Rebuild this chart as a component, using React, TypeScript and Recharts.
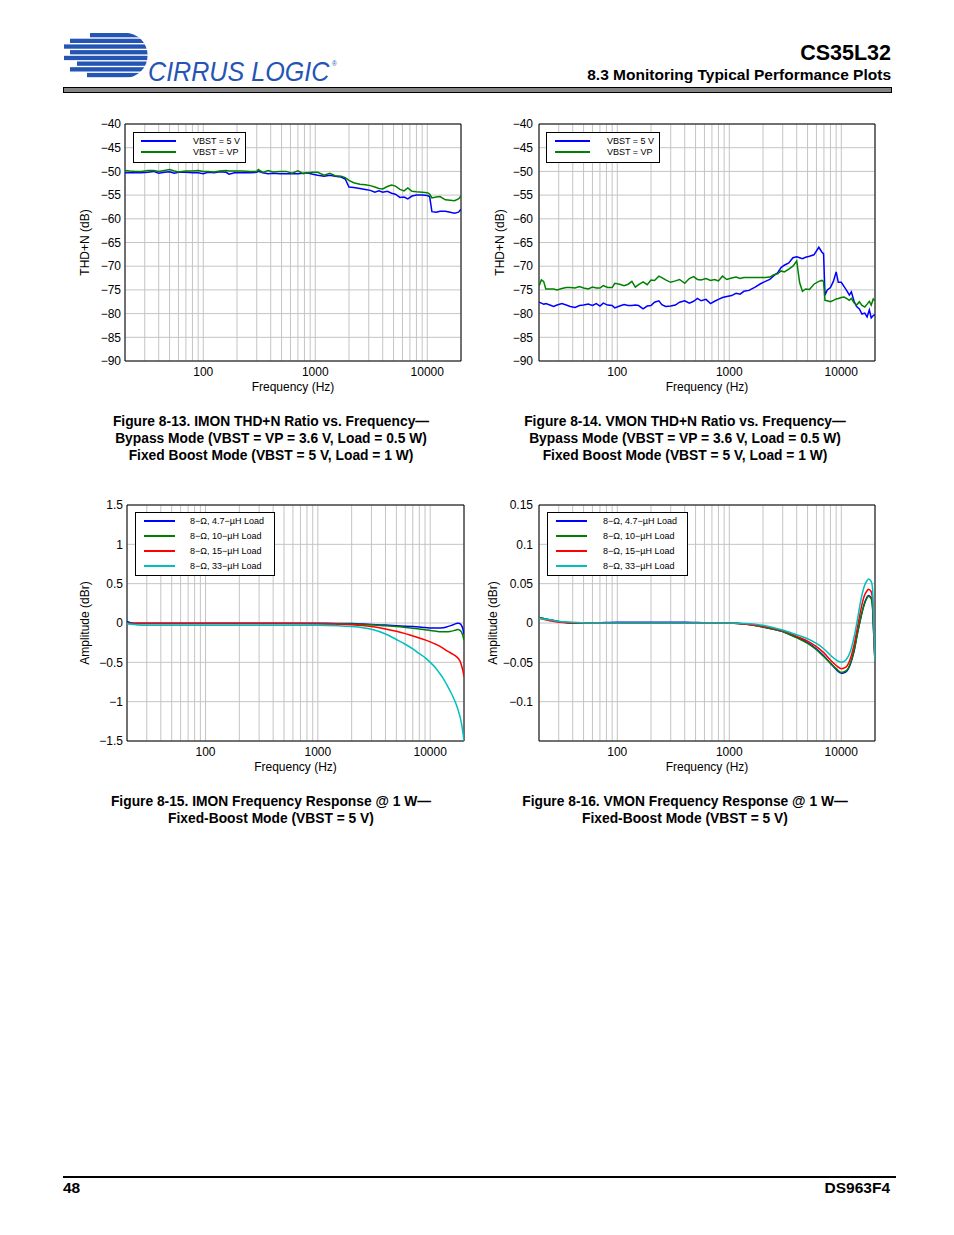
import React from "react";
import {
  LineChart,
  Line,
  XAxis,
  YAxis,
  CartesianGrid,
  Legend,
  ReferenceArea,
} from "recharts";

const FONT = '"Liberation Sans", Arial, Helvetica, sans-serif';

// log grid, only decades get a label
const X_TICKS = [
  20, 30, 40, 50, 60, 70, 80, 90, 100, 200, 300, 400, 500, 600, 700, 800, 900,
  1000, 2000, 3000, 4000, 5000, 6000, 7000, 8000, 9000, 10000, 20000,
];
const X_LABELED = [100, 1000, 10000];

// Figure 8-13 IMON THD+N
const imonThdFreq = [
  20, 22, 25, 28, 32, 36, 40, 45, 50, 55, 60, 70, 80, 90, 100, 110, 125, 140,
  160, 170, 190, 220, 260, 300, 310, 340, 380, 420, 480, 550, 620, 700, 780,
  850, 950, 1050, 1200, 1350, 1500, 1700, 1850, 2000, 2200, 2500, 2800, 3100,
  3400, 3700, 4000, 4400, 4800, 5200, 5700, 6200, 6700, 7300, 8000, 9000,
  10000, 10500, 11000, 12000, 13000, 14500, 16000, 17500, 19000, 20000,
];
const imonThdVbst5 = [
  -50.3, -50.3, -50.3, -50.3, -50.2, -50.0, -50.4, -50.2, -50.1, -50.4,
  -50.2, -50.2, -50.3, -50.3, -50.5, -50.2, -50.3, -50.1, -50.2, -50.6,
  -50.3, -50.3, -50.3, -50.2, -50.0, -50.3, -50.5, -50.4, -50.5, -50.5,
  -50.5, -50.5, -50.4, -50.3, -50.6, -50.8, -51.0, -50.8, -51.0, -51.2,
  -51.6, -53.3, -53.4, -53.6, -53.8, -54.0, -54.4, -54.1, -54.4, -54.2,
  -54.6, -54.8, -55.5, -55.4, -55.8, -55.2, -55.0, -55.0, -55.1, -55.3,
  -58.5, -58.6, -58.4, -58.4, -58.6, -58.8, -58.6, -58.0,
];
const imonThdVbstVp = [
  -49.8, -49.9, -50.0, -50.0, -49.8, -49.8, -50.0, -49.8, -49.6, -49.9,
  -50.1, -49.9, -49.9, -49.8, -50.0, -50.0, -50.1, -49.9, -49.8, -49.9,
  -49.9, -49.9, -50.0, -50.0, -49.6, -50.2, -49.8, -50.1, -50.0, -50.0,
  -50.4, -49.9, -50.5, -50.3, -50.2, -50.2, -50.8, -50.4, -50.9, -51.0,
  -51.3, -51.9, -52.4, -52.7, -52.8, -53.0, -53.3, -53.6, -53.7, -53.2,
  -52.9, -53.1, -53.8, -54.1, -53.5, -54.2, -54.3, -54.4, -54.5, -54.8,
  -55.6, -55.4, -55.3, -56.0, -56.1, -56.2, -55.8, -55.2,
];

// Figure 8-14 VMON THD+N
const vmonThdFreq = [
  20, 21, 22, 23, 25, 27, 29, 32, 35, 38, 42, 46, 50, 55, 60, 65, 70, 75, 82,
  90, 95, 105, 115, 125, 135, 145, 155, 170, 185, 200, 215, 235, 250, 270, 300,
  330, 360, 400, 440, 480, 520, 560, 620, 680, 740, 800, 870, 950, 1050, 1150,
  1250, 1350, 1500, 1700, 1900, 2100, 2300, 2500, 2700, 2900, 3100, 3400, 3700,
  4000, 4250, 4500, 4800, 5200, 5700, 6300, 6700, 6950, 7150, 7500, 8000, 8500,
  9000, 9400, 10000, 10600, 11300, 11800, 12300, 13000, 13700, 14500, 15300,
  16200, 17000, 17800, 18500, 19300, 20000,
];
const vmonThdVbst5 = [
  -77.6, -77.8, -78.0, -77.9, -78.2, -78.5, -78.2, -77.9, -78.2, -78.5,
  -78.7, -78.3, -78.2, -78.0, -78.3, -77.9, -78.4, -77.8, -78.2, -78.3,
  -78.8, -78.4, -78.1, -78.3, -78.3, -78.2, -78.3, -79.0, -78.4, -78.3,
  -77.6, -77.3, -78.1, -78.5, -78.4, -78.2, -77.6, -77.3, -77.8, -77.4,
  -76.8, -77.3, -77.0, -77.9, -77.4, -77.0, -76.6, -76.4, -76.2, -75.7,
  -75.9, -75.3, -75.1, -74.4, -73.7, -73.2, -72.8, -72.0, -71.4, -70.3,
  -69.8, -69.3, -68.2, -68.0, -68.2, -68.4, -68.1, -67.9, -67.6, -66.0,
  -67.0, -67.4, -76.1, -75.0, -74.5, -73.2, -71.2, -73.4, -73.4, -74.3,
  -75.3, -76.1, -75.4, -77.4, -78.5, -79.0, -80.1, -79.9, -80.7, -79.2,
  -80.9, -80.4, -80.2,
];
const vmonThdVbstVp = [
  -74.2, -72.9, -73.2, -74.8, -74.8, -74.8, -75.0, -74.7, -74.5, -74.5,
  -74.6, -74.3, -74.6, -74.8, -74.4, -74.6, -74.6, -74.1, -74.5, -74.5,
  -73.6, -73.8, -74.1, -73.8, -73.2, -74.4, -73.9, -73.3, -73.9, -72.9,
  -73.0, -72.1, -72.4, -72.9, -73.4, -73.1, -72.8, -73.6, -72.6, -72.2,
  -72.8, -72.9, -72.6, -73.0, -72.8, -73.1, -72.1, -72.8, -72.5, -72.3,
  -72.6, -72.4, -72.4, -72.4, -72.4, -72.4, -72.3, -71.8, -71.6, -71.0,
  -71.2, -70.6, -70.0, -68.9, -73.5, -75.3, -74.8, -74.9, -73.8, -73.2,
  -73.0, -73.2, -77.2, -77.3, -77.5, -77.2, -76.9, -76.8, -76.6, -76.5,
  -76.9, -77.2, -76.8, -77.7, -78.2, -77.5, -78.3, -78.6, -78.0, -77.4,
  -78.2, -76.9, -77.3,
];

// Figure 8-15 IMON frequency response
const imonFrFreq = [
  20, 22, 25, 30, 40, 60, 100, 200, 500, 1000, 1500, 2000, 2500, 3000, 4000,
  5000, 6000, 7000, 8000, 9000, 10000, 11000, 12000, 13000, 14000, 15000,
  16000, 17000, 17500, 18000, 18500, 19000, 19500, 20000,
];
const imonFr47 = [
  0.02, 0.0, -0.004, -0.004, -0.004, -0.004, -0.004, -0.004, -0.004, -0.004,
  -0.005, -0.007, -0.012, -0.018, -0.027, -0.034, -0.04, -0.046, -0.052,
  -0.058, -0.062, -0.065, -0.065, -0.06, -0.05, -0.037, -0.022, -0.008,
  -0.003, -0.004, -0.01, -0.03, -0.07, -0.14,
];
const imonFr10 = [
  0.0, -0.005, -0.007, -0.007, -0.007, -0.007, -0.007, -0.007, -0.007, -0.007,
  -0.01, -0.012, -0.017, -0.022, -0.035, -0.045, -0.056, -0.066, -0.076,
  -0.085, -0.095, -0.103, -0.11, -0.112, -0.112, -0.108, -0.1, -0.088, -0.084,
  -0.086, -0.095, -0.115, -0.155, -0.22,
];
const imonFr15 = [
  -0.006, -0.006, -0.006, -0.006, -0.006, -0.006, -0.006, -0.006, -0.006,
  -0.008, -0.015, -0.022, -0.032, -0.045, -0.075, -0.105, -0.135, -0.165,
  -0.19, -0.215, -0.24, -0.265, -0.29, -0.32, -0.35, -0.375, -0.4, -0.425,
  -0.44, -0.46, -0.49, -0.54, -0.6, -0.68,
];
const imonFr33 = [
  -0.01, -0.015, -0.025, -0.03, -0.03, -0.03, -0.03, -0.03, -0.03, -0.03,
  -0.035, -0.045, -0.06, -0.08, -0.14, -0.21, -0.27, -0.33, -0.39, -0.44, -0.5,
  -0.56, -0.63, -0.7, -0.78, -0.86, -0.94, -1.03, -1.08, -1.14, -1.2, -1.28,
  -1.38, -1.5,
];

// Figure 8-16 VMON frequency response
const vmonFrFreq = [
  20, 25, 30, 40, 60, 100, 200, 400, 700, 1000, 1500, 2000, 2500, 3000, 3500,
  4000, 5000, 6000, 7000, 8000, 9000, 10000, 11000, 12000, 13000, 14000, 15000,
  16000, 17000, 17500, 18500, 19000, 19500, 20000,
];
const vmonFr47 = [
  0.007, 0.004, 0.002, 0.0, 0.0, 0.001, 0.001, 0.001, 0.0, 0.0, -0.002, -0.005,
  -0.008, -0.011, -0.015, -0.018, -0.025, -0.033, -0.042, -0.051, -0.059,
  -0.064, -0.062, -0.053, -0.036, -0.012, 0.008, 0.024, 0.033, 0.035, 0.032,
  0.022, -0.015, -0.05,
];
const vmonFr10 = [
  0.007, 0.004, 0.002, 0.0, 0.0, 0.0, 0.0, 0.0, 0.0, 0.0, -0.002, -0.005,
  -0.008, -0.011, -0.015, -0.019, -0.026, -0.034, -0.043, -0.051, -0.058,
  -0.063, -0.061, -0.052, -0.035, -0.012, 0.008, 0.023, 0.032, 0.034, 0.031,
  0.02, -0.015, -0.05,
];
const vmonFr15 = [
  0.006, 0.003, 0.001, 0.0, 0.0, 0.0, 0.0, 0.0, 0.0, 0.0, -0.002, -0.004,
  -0.007, -0.01, -0.013, -0.017, -0.023, -0.03, -0.038, -0.047, -0.054, -0.058,
  -0.056, -0.046, -0.028, -0.004, 0.018, 0.034, 0.041, 0.043, 0.04, 0.03,
  -0.01, -0.05,
];
const vmonFr33 = [
  0.006, 0.004, 0.002, 0.001, 0.0, 0.0, 0.0, 0.0, 0.0, 0.0, -0.001, -0.003,
  -0.006, -0.009, -0.012, -0.015, -0.02, -0.026, -0.033, -0.041, -0.047, -0.05,
  -0.047, -0.037, -0.018, 0.006, 0.03, 0.046, 0.054, 0.056, 0.053, 0.045, 0.0,
  -0.05,
];

const THD_TICKS = [-90, -85, -80, -75, -70, -65, -60, -55, -50, -45, -40];
const IMON_FR_TICKS = [-1.5, -1, -0.5, 0, 0.5, 1, 1.5];
const VMON_FR_TICKS = [-0.15, -0.1, -0.05, 0, 0.05, 0.1, 0.15];

const VBST_NAMES = ["VBST = 5 V", "VBST = VP"];
const LOAD_NAMES = [
  "8\u2212\u03A9, 4.7\u2212\u00B5H Load",
  "8\u2212\u03A9, 10\u2212\u00B5H Load",
  "8\u2212\u03A9, 15\u2212\u00B5H Load",
  "8\u2212\u03A9, 33\u2212\u00B5H Load",
];
const COLORS = ["#0000ff", "#008000", "#ff0000", "#00bfbf"];

type Series = { key: string; name: string; color: string; values: number[] };
type Box = {
  left: number;
  top: number;
  width: number;
  height: number;
  lineX: number;
  lineLen: number;
  textX: number;
  rowTop: number;
  rowGap: number;
};

function BoxLegend({ payload, box }: { payload: any[]; box: Box }) {
  return (
    <div
      style={{
        position: "relative",
        width: box.width,
        height: box.height,
        boxSizing: "border-box",
        border: "1px solid #000",
        background: "#fff",
        fontFamily: FONT,
        fontSize: 9,
        color: "#000",
      }}
    >
      {(payload || []).map((e: any, i: number) => {
        const y = box.rowTop - 1 + i * box.rowGap;
        return (
          <React.Fragment key={i}>
            <div
              style={{
                position: "absolute",
                left: box.lineX - 1,
                top: y - 1,
                width: box.lineLen,
                height: 2,
                background: e.color,
              }}
            />
            <div
              style={{
                position: "absolute",
                left: box.textX - 1,
                top: y - 6,
                lineHeight: "12px",
                whiteSpace: "nowrap",
              }}
            >
              {e.value}
            </div>
          </React.Fragment>
        );
      })}
    </div>
  );
}

const fmtFreq = (v: number) => (X_LABELED.includes(v) ? String(v) : "");

function Panel(props: {
  left: number;
  top: number;
  margin: { top: number; right: number; bottom: number; left: number };
  yWidth: number;
  tickMargin: number;
  yDomain: [number, number];
  yTicks: number[];
  yHide?: number[];
  yLabel: string;
  yLabelOffset: number;
  freq: number[];
  series: Series[];
  legend: Box;
  curve: "linear" | "monotone";
}) {
  const data = props.freq.map((f, i) => {
    const row: Record<string, number> = { f };
    props.series.forEach((s) => {
      row[s.key] = s.values[i];
    });
    return row;
  });
  const hide = props.yHide || [];
  const fmtY = (v: number) =>
    hide.includes(v) ? "" : String(v).replace("-", "\u2212");

  return (
    <div style={{ position: "absolute", left: props.left, top: props.top }}>
      <LineChart
        width={420}
        height={290}
        data={data}
        margin={props.margin}
        style={{ fontFamily: FONT }}
      >
        <CartesianGrid stroke="#c4c4c4" strokeWidth={1} />
        <XAxis
          dataKey="f"
          type="number"
          scale="log"
          domain={[20, 20000]}
          allowDataOverflow
          ticks={X_TICKS}
          interval={0}
          tickFormatter={fmtFreq}
          axisLine={false}
          tickLine={false}
          tickSize={0}
          tickMargin={6}
          height={39}
          tick={{ fill: "#000", fontSize: 12 }}
          label={{
            value: "Frequency (Hz)",
            position: "insideBottom",
            offset: 9,
            fill: "#000",
            fontSize: 12,
          }}
        />
        <YAxis
          type="number"
          domain={props.yDomain}
          allowDataOverflow
          ticks={props.yTicks}
          interval={0}
          tickFormatter={fmtY}
          axisLine={false}
          tickLine={false}
          tickSize={0}
          tickMargin={props.tickMargin}
          width={props.yWidth}
          tick={{ fill: "#000", fontSize: 12 }}
          label={{
            value: props.yLabel,
            angle: -90,
            position: "insideLeft",
            offset: props.yLabelOffset,
            fill: "#000",
            fontSize: 12,
            style: { textAnchor: "middle" },
          }}
        />
        <ReferenceArea
          x1={20}
          x2={20000}
          y1={props.yDomain[0]}
          y2={props.yDomain[1]}
          fill="none"
          stroke="#000"
          strokeWidth={1}
          ifOverflow="visible"
        />
        {props.series.map((s) => (
          <Line
            key={s.key}
            dataKey={s.key}
            name={s.name}
            stroke={s.color}
            strokeWidth={1.5}
            dot={false}
            type={props.curve}
            isAnimationActive={false}
          />
        ))}
        <Legend
          layout="vertical"
          align="center"
          verticalAlign="middle"
          itemSorter="dataKey"
          wrapperStyle={{
            left: props.legend.left,
            top: props.legend.top,
            width: props.legend.width,
            height: props.legend.height,
          }}
          content={(p: any) => <BoxLegend payload={p.payload} box={props.legend} />}
        />
      </LineChart>
    </div>
  );
}

function Logo() {
  const stripes = [
    [90, 33],
    [70, 38.7],
    [64, 44.4],
    [70, 50.1],
    [64, 55.8],
    [77, 61.5],
    [70, 67.2],
    [87, 72.9],
  ];
  return (
    <svg
      width={360}
      height={95}
      style={{ position: "absolute", left: 0, top: 0 }}
    >
      <defs>
        <clipPath id="logoClip">
          <circle cx={125} cy={55.3} r={22.6} />
          <rect x={50} y={30} width={75} height={50} />
        </clipPath>
      </defs>
      <g clipPath="url(#logoClip)" fill="#2454b4">
        {stripes.map(([x, y], i) => (
          <rect key={i} x={x} y={y} width={160 - x} height={4.3} />
        ))}
      </g>
      <text
        transform="translate(148 80.5) scale(0.93 1)"
        fontSize={27}
        fontStyle="italic"
        fill="#2454b4"
        fontFamily={FONT}
      >
        CIRRUS LOGIC
        <tspan fontSize={7} fontStyle="normal" dx={3} dy={-15}>
          ®
        </tspan>
      </text>
    </svg>
  );
}

const captionStyle: React.CSSProperties = {
  position: "absolute",
  width: 420,
  textAlign: "center",
  fontWeight: "bold",
  fontSize: 13.8,
  lineHeight: "17px",
  whiteSpace: "nowrap",
};

const footStyle: React.CSSProperties = {
  position: "absolute",
  top: 1179,
  fontSize: 15.5,
  fontWeight: "bold",
  lineHeight: "18px",
};

export default function App() {
  const vbstSeries = (a: number[], b: number[]): Series[] => [
    { key: "s0", name: VBST_NAMES[0], color: COLORS[0], values: a },
    { key: "s1", name: VBST_NAMES[1], color: COLORS[1], values: b },
  ];
  const loadSeries = (vals: number[][]): Series[] =>
    vals.map((v, i) => ({
      key: `l${i}`,
      name: LOAD_NAMES[i],
      color: COLORS[i],
      values: v,
    }));

  return (
    <div
      style={{
        position: "absolute",
        left: 0,
        top: 0,
        width: 954,
        height: 1235,
        background: "#fff",
        fontFamily: FONT,
        color: "#000",
        overflow: "hidden",
      }}
    >
      <Logo />
      <div
        style={{
          position: "absolute",
          right: 63,
          top: 41,
          fontSize: 21.5,
          fontWeight: "bold",
          lineHeight: "24px",
        }}
      >
        CS35L32
      </div>
      <div
        style={{
          position: "absolute",
          right: 63,
          top: 66,
          fontSize: 15.5,
          fontWeight: "bold",
          lineHeight: "18px",
          whiteSpace: "nowrap",
        }}
      >
        8.3 Monitoring Typical Performance Plots
      </div>
      <div
        style={{
          position: "absolute",
          left: 63,
          top: 87,
          width: 829,
          height: 6,
          boxSizing: "border-box",
          border: "1px solid #000",
          background: "#858585",
        }}
      />

      <Panel
        left={60}
        top={110}
        margin={{ top: 14, right: 19, bottom: 0, left: 0 }}
        yWidth={65}
        tickMargin={4}
        yDomain={[-90, -40]}
        yTicks={THD_TICKS}
        yLabel="THD+N (dB)"
        yLabelOffset={25}
        freq={imonThdFreq}
        series={vbstSeries(imonThdVbst5, imonThdVbstVp)}
        legend={{ left: 73, top: 22, width: 113, height: 31, lineX: 8, lineLen: 35, textX: 60, rowTop: 8.7, rowGap: 11.6 }}
        curve="linear"
      />
      <Panel
        left={480}
        top={110}
        margin={{ top: 14, right: 25, bottom: 0, left: 0 }}
        yWidth={59}
        tickMargin={6}
        yDomain={[-90, -40]}
        yTicks={THD_TICKS}
        yLabel="THD+N (dB)"
        yLabelOffset={20}
        freq={vmonThdFreq}
        series={vbstSeries(vmonThdVbst5, vmonThdVbstVp)}
        legend={{ left: 66, top: 22, width: 114, height: 31, lineX: 9, lineLen: 35, textX: 61, rowTop: 8.7, rowGap: 11.6 }}
        curve="linear"
      />
      <Panel
        left={60}
        top={490}
        margin={{ top: 15, right: 16, bottom: 0, left: 0 }}
        yWidth={67}
        tickMargin={4}
        yDomain={[-1.5, 1.5]}
        yTicks={IMON_FR_TICKS}
        yLabel="Amplitude (dBr)"
        yLabelOffset={25}
        freq={imonFrFreq}
        series={loadSeries([imonFr47, imonFr10, imonFr15, imonFr33])}
        legend={{ left: 75, top: 22, width: 140, height: 64, lineX: 9, lineLen: 31, textX: 55, rowTop: 8.7, rowGap: 15 }}
        curve="monotone"
      />
      <Panel
        left={480}
        top={490}
        margin={{ top: 15, right: 25, bottom: 0, left: 0 }}
        yWidth={59}
        tickMargin={6}
        yDomain={[-0.15, 0.15]}
        yTicks={VMON_FR_TICKS}
        yHide={[-0.15]}
        yLabel="Amplitude (dBr)"
        yLabelOffset={13}
        freq={vmonFrFreq}
        series={loadSeries([vmonFr47, vmonFr10, vmonFr15, vmonFr33])}
        legend={{ left: 67, top: 22, width: 141, height: 64, lineX: 9, lineLen: 31, textX: 56, rowTop: 8.7, rowGap: 15 }}
        curve="monotone"
      />

      <div style={{ ...captionStyle, left: 61, top: 413 }}>
        Figure 8-13. IMON THD+N Ratio vs. Frequency—
        <br />
        Bypass Mode (VBST = VP = 3.6 V, Load = 0.5 W)
        <br />
        Fixed Boost Mode (VBST = 5 V, Load = 1 W)
      </div>
      <div style={{ ...captionStyle, left: 475, top: 413 }}>
        Figure 8-14. VMON THD+N Ratio vs. Frequency—
        <br />
        Bypass Mode (VBST = VP = 3.6 V, Load = 0.5 W)
        <br />
        Fixed Boost Mode (VBST = 5 V, Load = 1 W)
      </div>
      <div style={{ ...captionStyle, left: 61, top: 793 }}>
        Figure 8-15. IMON Frequency Response @ 1 W—
        <br />
        Fixed-Boost Mode (VBST = 5 V)
      </div>
      <div style={{ ...captionStyle, left: 475, top: 793 }}>
        Figure 8-16. VMON Frequency Response @ 1 W—
        <br />
        Fixed-Boost Mode (VBST = 5 V)
      </div>

      <div
        style={{
          position: "absolute",
          left: 63,
          top: 1176,
          width: 833,
          height: 2,
          background: "#000",
        }}
      />
      <div style={{ ...footStyle, left: 63 }}>48</div>
      <div style={{ ...footStyle, right: 64 }}>DS963F4</div>
    </div>
  );
}
